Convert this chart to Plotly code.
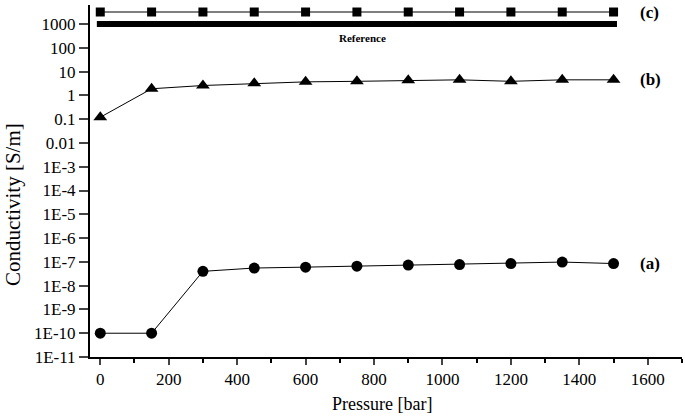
import math
import plotly.graph_objects as go

pressure = [0, 150, 300, 450, 600, 750, 900, 1050, 1200, 1350, 1500]
cond_a = [1e-10, 1e-10, 4.0e-8, 5.5e-8, 6.0e-8, 6.6e-8, 7.3e-8, 7.7e-8, 8.5e-8, 9.8e-8, 8.5e-8]
cond_b = [0.12, 1.9, 2.6, 3.2, 3.7, 3.9, 4.3, 4.5, 3.9, 4.5, 4.5]
cond_c = [3200] * 11
ref_x = [-10, 1510]
ref_y = [1000, 1000]
ytick_vals = [1e-11, 1e-10, 1e-9, 1e-8, 1e-7, 1e-6, 1e-5, 1e-4, 1e-3, 0.01, 0.1, 1, 10, 100, 1000]
ytick_text = ["1E-11", "1E-10", "1E-9", "1E-8", "1E-7", "1E-6", "1E-5", "1E-4", "1E-3",
              "0.01", "0.1", "1", "10", "100", "1000"]
xtick_vals = [0, 200, 400, 600, 800, 1000, 1200, 1400, 1600]
labels = ["(a)", "(b)", "(c)"]
label_y = [8.5e-8, 4.5, 3200]

FONT = "'Liberation Serif', 'Times New Roman', serif"
fig = go.Figure()
fig.add_trace(go.Scatter(x=ref_x, y=ref_y, mode="lines", line=dict(color="black", width=6), showlegend=False))
fig.add_trace(go.Scatter(x=pressure, y=cond_c, mode="lines+markers", line=dict(color="black", width=1),
                         marker=dict(symbol="square", size=9, color="black"), showlegend=False))
fig.add_trace(go.Scatter(x=pressure, y=cond_b, mode="lines+markers", line=dict(color="black", width=1),
                         marker=dict(symbol="triangle-up", size=12, color="black"), showlegend=False))
fig.add_trace(go.Scatter(x=pressure, y=cond_a, mode="lines+markers", line=dict(color="black", width=1),
                         marker=dict(symbol="circle", size=11, color="black"), showlegend=False))

for t, yv in zip(labels, label_y):
    fig.add_annotation(x=1572, y=math.log10(yv), text="<b>%s</b>" % t, showarrow=False,
                       xanchor="left", font=dict(family=FONT, size=17, color="black"))
fig.add_annotation(x=765, y=math.log10(1000), yshift=-14, text="<b>Reference</b>", showarrow=False,
                   font=dict(family=FONT, size=11, color="black"))

# axis titles
fig.add_annotation(xref="paper", yref="paper", x=0.493, y=-0.134, text="Pressure [bar]", showarrow=False,
                   xanchor="center", yanchor="middle", font=dict(family=FONT, size=18, color="black"))
fig.add_annotation(xref="paper", yref="paper", x=-0.130, y=0.432, text="Conductivity [S/m]", showarrow=False,
                   textangle=-90, xanchor="center", yanchor="middle", font=dict(family=FONT, size=21, color="black"))

fig.update_xaxes(range=[-30, 1700], tickvals=xtick_vals, ticks="outside", ticklen=6, tickwidth=1.5,
                 minor=dict(ticks="outside", ticklen=4, dtick=100, tickcolor="black", tickwidth=1.5),
                 showline=True, linecolor="black", linewidth=2, showgrid=False, zeroline=False,
                 automargin=False, tickfont=dict(family=FONT, size=17, color="black"))
fig.update_yaxes(type="log", range=[-11, 3.8], tickvals=ytick_vals, ticktext=ytick_text, ticks="outside",
                 ticklen=9, tickwidth=1.5, showline=True, linecolor="black", linewidth=2, showgrid=False,
                 zeroline=False, automargin=False, tickfont=dict(family=FONT, size=17, color="black"))
fig.update_layout(width=685, height=416, margin=dict(l=90, r=3, t=5, b=59),
                  font=dict(family=FONT), plot_bgcolor="white", paper_bgcolor="white")
fig.write_html("out.html", post_script="document.body.style.margin='0';",
               config={"displayModeBar": False})
